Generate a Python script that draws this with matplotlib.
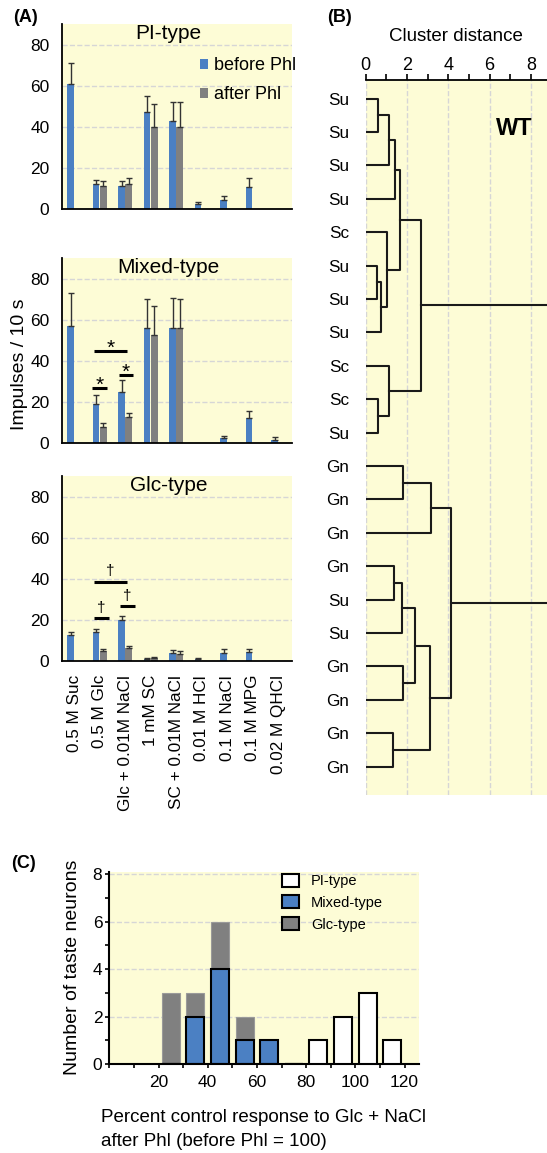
import numpy as np
import matplotlib
matplotlib.use("Agg")
import matplotlib.pyplot as plt
from matplotlib.patches import Patch

plt.rcParams['font.family'] = ['Liberation Sans', 'DejaVu Sans']

W, H = 547, 1153
BLUE = '#4b80c3'
GREY = '#808080'
BG = '#fdfcd6'
GRID = '#d6d6d6'

# ---- panel A data ----
categories = ['0.5 M Suc', '0.5 M Glc', 'Glc + 0.01M NaCl', '1 mM SC', 'SC + 0.01M NaCl',
              '0.01 M HCl', '0.1 M NaCl', '0.1 M MPG', '0.02 M QHCl']

pi_before = [61, 12, 11, 47, 43, 2.5, 4.5, 10.5, 0]
pi_before_err = [10, 2, 2.5, 8, 9, 1, 2, 4.5, 0]
pi_after = [0, 11, 12, 40, 40, 0, 0, 0, 0]
pi_after_err = [0, 2.5, 3, 11, 12, 0, 0, 0, 0]

mixed_before = [57, 19, 25, 56, 56, 0, 2.3, 12, 1.5]
mixed_before_err = [16, 4.5, 5.5, 14, 14.5, 0, 1.3, 3.5, 1.3]
mixed_after = [0, 8, 12.5, 52.5, 56, 0, 0, 0, 0]
mixed_after_err = [0, 1.5, 2, 14, 14, 0, 0, 0, 0]

glc_before = [12.5, 14, 20, 1, 4, 1.2, 4, 4.5, 0]
glc_before_err = [1.5, 1.8, 2, 0.4, 1.3, 0.4, 2, 1.5, 0]
glc_after = [0, 5, 6.5, 1.3, 3.5, 0, 0, 0, 0]
glc_after_err = [0, 1, 1, 0.8, 1.5, 0, 0, 0, 0]

# significance bars: (x start, x end, height, symbol)
mixed_sig = [(0.69, 1.30, 27, '*'), (1.75, 2.31, 33, '*'), (0.77, 2.05, 45, '*')]
glc_sig = [(0.78, 1.36, 20.8, '\u2020'), (1.79, 2.39, 26.8, '\u2020'), (0.78, 2.07, 38.6, '\u2020')]

# ---- panel B data ----
leaves = ['Su', 'Su', 'Su', 'Su', 'Sc', 'Su', 'Su', 'Su', 'Sc', 'Sc', 'Su',
          'Gn', 'Gn', 'Gn', 'Gn', 'Su', 'Su', 'Gn', 'Gn', 'Gn', 'Gn']
# merges (cluster a, cluster b, distance); new clusters numbered from len(leaves)
merges = [(0, 1, 0.61), (21, 2, 1.14), (22, 3, 1.40), (5, 6, 0.53), (24, 7, 0.73),
          (4, 25, 1.02), (23, 26, 1.66), (9, 10, 0.61), (8, 28, 1.14), (27, 29, 2.66),
          (11, 12, 1.79), (31, 13, 3.15), (14, 15, 1.37), (33, 16, 1.74), (17, 18, 1.79),
          (34, 35, 2.39), (19, 20, 1.34), (36, 37, 3.11), (32, 38, 4.13), (30, 39, 10.0)]

# ---- panel C data ----
bin_centers = [25, 35, 45, 55, 65, 75, 85, 95, 105, 115]
mixed_counts = [0, 2, 4, 1, 1, 0, 0, 0, 0, 0]
glc_counts = [3, 1, 2, 1, 0, 0, 0, 0, 0, 0]
pi_counts = [0, 0, 0, 0, 0, 0, 1, 2, 3, 1]

fig = plt.figure(figsize=(W / 100, H / 100), dpi=100)


def px_axes(l, t, r, b):
    return fig.add_axes([l / W, 1 - b / H, (r - l) / W, (b - t) / H])


def bar_panel(ax, title, before, before_err, after, after_err, sig=None, show_labels=False):
    x = np.arange(len(categories))
    ax.set_facecolor(BG)
    for s in ['top', 'right']:
        ax.spines[s].set_visible(False)
    for s in ['left', 'bottom']:
        ax.spines[s].set_linewidth(1.3)
    ax.set_axisbelow(True)
    ax.yaxis.grid(True, color=GRID, linestyle='--', linewidth=1)
    off, w = 0.14, 0.26
    b = np.array(before, float)
    a = np.array(after, float)
    mb = b > 0
    ma = a > 0
    ax.bar(x[mb] - off, b[mb], w, color=BLUE, label='before Phl', zorder=2)
    ax.errorbar(x[mb] - off, b[mb], yerr=[np.zeros(mb.sum()), np.array(before_err)[mb]],
                fmt='none', ecolor='#333333', elinewidth=1, capsize=2, capthick=1, zorder=3)
    ax.bar(x[ma] + off, a[ma], w, color=GREY, label='after Phl', zorder=2)
    ax.errorbar(x[ma] + off, a[ma], yerr=[np.zeros(ma.sum()), np.array(after_err)[ma]],
                fmt='none', ecolor='#333333', elinewidth=1, capsize=2, capthick=1, zorder=3)
    ax.set_xlim(-0.48, 8.54)
    ax.set_ylim(0, 90)
    ax.set_yticks([0, 20, 40, 60, 80])
    ax.tick_params(axis='y', length=0, pad=9, labelsize=12.5)
    ax.tick_params(axis='x', length=0)
    ax.set_xticks(x)
    if show_labels:
        ax.set_xticklabels(categories, rotation=90, fontsize=12.3)
        ax.tick_params(axis='x', pad=10)
    else:
        ax.set_xticklabels([])
    ax.text(3.7, 85.5, title, ha='center', va='center', fontsize=15)
    if sig:
        for x0, x1, y, sym in sig:
            ax.plot([x0, x1], [y, y], color='black', lw=2.2, solid_capstyle='butt', zorder=4)
            if sym == '*':
                ax.text((x0 + x1) / 2, y - 1.4, sym, ha='center', va='baseline', fontsize=15)
            else:
                ax.text((x0 + x1) / 2, y + 3.0, sym, ha='center', va='baseline', fontsize=11)


ax1 = px_axes(62, 24, 292, 209)
bar_panel(ax1, 'PI-type', pi_before, pi_before_err, pi_after, pi_after_err)
ax1.legend(loc='upper left', bbox_to_anchor=(0.6, 0.82), frameon=False, fontsize=13,
           handlelength=0.45, handleheight=0.45, handletextpad=0.35, labelspacing=0.67,
           borderaxespad=0, borderpad=0)

ax2 = px_axes(62, 258, 292, 443)
bar_panel(ax2, 'Mixed-type', mixed_before, mixed_before_err, mixed_after, mixed_after_err, mixed_sig)

ax3 = px_axes(62, 476, 292, 661)
bar_panel(ax3, 'Glc-type', glc_before, glc_before_err, glc_after, glc_after_err, glc_sig,
          show_labels=True)

fig.text(20 / W, 1 - 364 / H, 'Impulses / 10 s', rotation=90, ha='center', va='center', fontsize=14)

# ---- panel B: dendrogram ----
axb = px_axes(365.7, 80, 547, 795)
axb.set_facecolor(BG)
for s in ['left', 'right', 'bottom']:
    axb.spines[s].set_visible(False)
axb.spines['top'].set_linewidth(1.3)
pos = {i: (0.0, float(i)) for i in range(len(leaves))}
nid = len(leaves)
for a, b, h in merges:
    xa, ya = pos[a]
    xb, yb = pos[b]
    axb.plot([xa, h, h, xb], [ya, ya, yb, yb], color='#1a1a1a', lw=1.5, zorder=3)
    pos[nid] = (h, (ya + yb) / 2)
    nid += 1
axb.set_xlim(0, 8.78)
axb.set_ylim(20.85, -0.56)
axb.xaxis.tick_top()
axb.xaxis.set_label_position('top')
axb.set_xticks([0, 2, 4, 6, 8])
axb.set_xticks([1, 3, 5, 7], minor=True)
axb.tick_params(axis='x', which='both', direction='out', length=4, width=1.2, pad=0, labelsize=13)
axb.set_xlabel('Cluster distance', fontsize=13.5, labelpad=12)
axb.set_yticks(range(len(leaves)))
axb.set_yticklabels(leaves, fontsize=12.3)
axb.tick_params(axis='y', length=0, pad=12)
axb.set_axisbelow(True)
axb.xaxis.grid(True, color=GRID, linestyle='--', linewidth=1)
axb.text(7.2, 0.9, 'WT', fontsize=17, fontweight='bold', ha='center', va='center')

# ---- panel C: histogram ----
axc = px_axes(109.3, 871.7, 419.3, 1064)
axc.set_facecolor(BG)
for s in ['top', 'right']:
    axc.spines[s].set_visible(False)
for s in ['left', 'bottom']:
    axc.spines[s].set_linewidth(1.5)
axc.set_axisbelow(True)
axc.yaxis.grid(True, color=GRID, linestyle='--', linewidth=1)
bw = 7.3
axc.bar(bin_centers, mixed_counts, bw, color=BLUE, edgecolor='black', linewidth=1.5, zorder=3)
axc.bar(bin_centers, glc_counts, bw, bottom=mixed_counts, color=GREY, edgecolor='#9a9a9a',
        linewidth=0.8, zorder=2)
axc.bar(bin_centers, pi_counts, bw, color='white', edgecolor='black', linewidth=1.5, zorder=3)
axc.set_xlim(0, 126)
axc.set_ylim(0, 8.1)
axc.set_xticks([20, 40, 60, 80, 100, 120])
axc.set_xticks([0, 10, 30, 50, 70, 90, 110], minor=True)
axc.set_yticks([0, 2, 4, 6, 8])
axc.set_yticks([1, 3, 5, 7], minor=True)
axc.tick_params(which='both', direction='out', length=3, width=1.2, labelsize=12.5)
axc.tick_params(axis='x', pad=5)
axc.tick_params(axis='y', pad=2)
fig.text(72.7 / W, 1 - 967 / H, 'Number of taste neurons', rotation=90, ha='center', va='center',
         fontsize=14)
fig.text(101 / W, 1 - 1117 / H, 'Percent control response to Glc + NaCl', ha='left', va='center',
         fontsize=13.5)
fig.text(101 / W, 1 - 1142 / H, 'after Phl (before Phl = 100)', ha='left', va='center',
         fontsize=13.5)
handles = [Patch(facecolor='white', edgecolor='black', linewidth=1.5, label='PI-type'),
           Patch(facecolor=BLUE, edgecolor='black', linewidth=1.5, label='Mixed-type'),
           Patch(facecolor=GREY, edgecolor='black', linewidth=1.5, label='Glc-type')]
axc.legend(handles=handles, loc='upper left', bbox_to_anchor=(0.557, 0.99), frameon=False,
           fontsize=10.5, handlelength=1.2, handleheight=1.0, handletextpad=0.8,
           labelspacing=0.5, borderaxespad=0, borderpad=0)

# panel letters
fig.text(25 / W, 1 - 18 / H, '(A)', fontsize=13, fontweight='bold', ha='center', va='center')
fig.text(340 / W, 1 - 18 / H, '(B)', fontsize=13, fontweight='bold', ha='center', va='center')
fig.text(24 / W, 1 - 863 / H, '(C)', fontsize=13, fontweight='bold', ha='center', va='center')

fig.savefig('out.png', dpi=100)
